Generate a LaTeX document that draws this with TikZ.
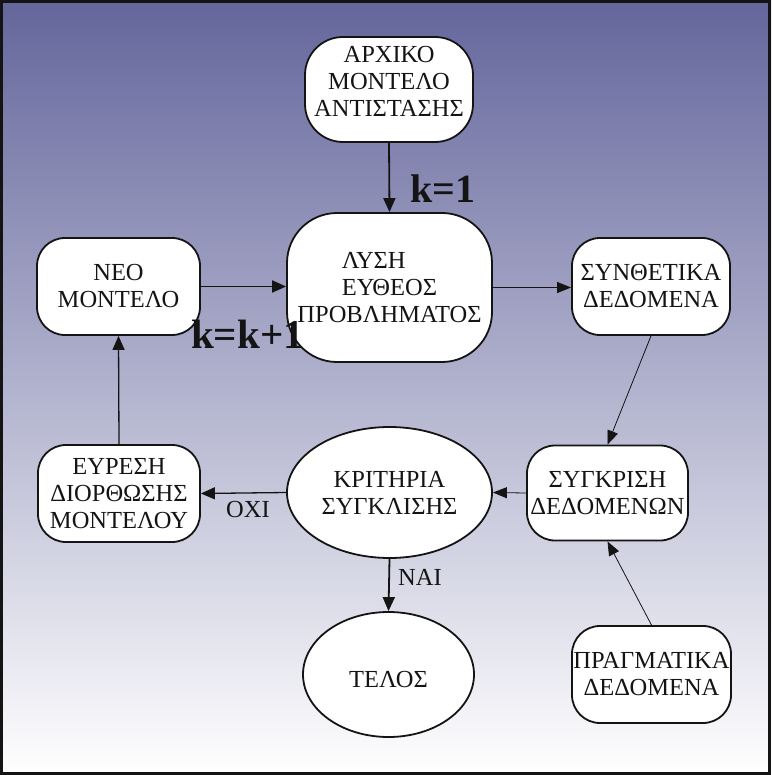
\documentclass[tikz,border=0pt]{standalone}
\usepackage{fontspec}
\setmainfont{Liberation Serif}
\usetikzlibrary{shapes.geometric,arrows.meta}
\definecolor{bgtop}{RGB}{100,102,156}
\definecolor{ink}{RGB}{20,20,20}
\begin{document}
\begin{tikzpicture}[x=1pt,y=-1pt,
  txt/.style={font=\fontsize{24.5}{27}\selectfont, text=ink, align=center, inner sep=0pt},
  rbox/.style={txt, draw=ink, line width=1.8pt, fill=white, rounded corners=28pt},
  ell/.style={txt, draw=ink, line width=1.8pt, fill=white, ellipse},
  big/.style={font=\fontsize{41}{44}\selectfont\bfseries, text=ink, inner sep=0pt, anchor=base west},
  small/.style={txt, anchor=base west},
  thk/.style={draw=ink, line width=1.8pt, -{Triangle[length=14pt,width=12pt]}},
  med/.style={draw=ink, line width=1.3pt, -{Triangle[length=14pt,width=12pt]}},
  thn/.style={draw=ink, line width=0.8pt, -{Triangle[length=14pt,width=11pt]}}
]
\useasboundingbox (0,0) rectangle (771,775);
\shade[top color=bgtop, bottom color=white] (0,0) rectangle (771,775);

\node[rbox, minimum width=168pt, minimum height=105pt, rounded corners=38pt,
  label={[txt,yshift=8pt]center:{ΑΡΧΙΚΟ\\ΜΟΝΤΕΛΟ\\ΑΝΤΙΣΤΑΣΗΣ}}] (arx) at (389,89.5) {};
\node[rbox, minimum width=205pt, minimum height=149pt, rounded corners=50pt] (lysi) at (389.5,287.5)
  {\rlap{ΛΥΣΗ}\phantom{ΕΥΘΕΟΣ}\\ΕΥΘΕΟΣ\\ΠΡΟΒΛΗΜΑΤΟΣ};
\node[rbox, minimum width=163pt, minimum height=97pt] (neo) at (118.5,286.5) {ΝΕΟ\\ΜΟΝΤΕΛΟ};
\node[rbox, minimum width=158pt, minimum height=97pt] (syn) at (651,286.5) {ΣΥΝΘΕΤΙΚΑ\\ΔΕΔΟΜΕΝΑ};
\node[rbox, minimum width=161pt, minimum height=95pt] (sygk) at (607.5,493) {ΣΥΓΚΡΙΣΗ\\ΔΕΔΟΜΕΝΩΝ};
\node[ell, minimum width=205pt, minimum height=131pt] (krit) at (389.5,492.5) {ΚΡΙΤΗΡΙΑ\\ΣΥΓΚΛΙΣΗΣ};
\node[rbox, minimum width=162pt, minimum height=97pt] (eur) at (119,493.5) {ΕΥΡΕΣΗ\\ΔΙΟΡΘΩΣΗΣ\\ΜΟΝΤΕΛΟΥ};
\node[ell, minimum width=171pt, minimum height=125pt,
  label={[txt,yshift=-5pt]center:ΤΕΛΟΣ}] (telos) at (388.5,674.5) {};
\node[rbox, minimum width=159pt, minimum height=97pt] (prag) at (651.5,674.5) {ΠΡΑΓΜΑΤΙΚΑ\\ΔΕΔΟΜΕΝΑ};

\draw[thk] (arx.south) -- (lysi.north);
\draw[thk] (neo.east) -- (neo.east -| lysi.west);
\draw[thn] (lysi.east) -- (lysi.east -| syn.west);
\draw[thn] (syn.south) -- (sygk.north);
\draw[thn] (prag.north) -- (sygk.south);
\draw[thn] (sygk.west) -- (krit.east);
\draw[med] (krit.west) -- (eur.east);
\draw[thk] (krit.south) -- (telos.north);
\draw[med] (eur.north) -- (neo.south);

\node[big, font=\fontsize{40}{44}\selectfont\bfseries] (k1) at (410,203) {k=1};
\node[big] (kk) at (191,348) {k=k+1};
\node[small] (oxi) at (226,517) {ΟΧΙ};
\node[small] (nai) at (398,585) {ΝΑΙ};

\draw[ink, line width=3pt] (1.5,1.5) rectangle (769.5,773.5);
\end{tikzpicture}
\end{document}
